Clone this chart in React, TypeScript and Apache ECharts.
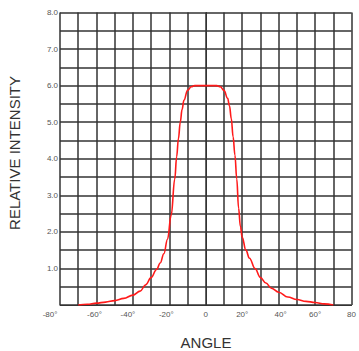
import React, { useEffect, useRef } from "react";
import * as echarts from "echarts";

const angles = [-70, -65, -60, -55, -50, -45, -40, -36, -33, -30, -27, -25, -23, -21, -19, -17, -16, -15, -14, -13, -12, -10, -8, -6, 0, 6, 8, 10, 12, 13, 14, 15, 16, 17, 18, 19, 20, 22, 24, 27, 30, 33, 36, 40, 45, 50, 55, 60, 65, 70];
const intensity = [0.0, 0.02, 0.05, 0.08, 0.12, 0.18, 0.27, 0.38, 0.55, 0.75, 0.97, 1.15, 1.4, 1.8, 2.45, 3.45, 4.05, 4.55, 5.0, 5.35, 5.6, 5.87, 5.97, 6.0, 6.0, 6.0, 5.97, 5.87, 5.65, 5.45, 5.1, 4.6, 4.1, 3.45, 2.65, 2.15, 1.85, 1.5, 1.28, 1.0, 0.75, 0.6, 0.46, 0.35, 0.22, 0.15, 0.1, 0.07, 0.03, 0.0];
const xTickLabels: Record<number, string> = { [-80]: "-80°", [-60]: "-60°", [-40]: "-40°", [-20]: "-20°", 0: "0", 20: "20°", 40: "40°", 60: "60°", 80: "80" };
const xLabelShift: Record<number, string> = { [-80]: "p20", [-60]: "p4", [-40]: "p10", [-20]: "p6", 40: "q4" };
const yTickLabels = [1, 2, 3, 4, 5, 6, 7, 8];

export default function App() {
  const ref = useRef<HTMLDivElement>(null);
  useEffect(() => {
    const chart = echarts.init(ref.current!, null, { renderer: "svg" });
    const font = "'Liberation Sans', Arial, sans-serif";
    chart.setOption({
      animation: false,
      grid: { left: 60, right: 6.3, top: 12.5, bottom: 46 },
      xAxis: {
        type: "value",
        min: -80,
        max: 80,
        interval: 10,
        axisLine: { show: true, lineStyle: { color: "#333", width: 1 } },
        axisTick: { show: false },
        splitLine: { show: true, lineStyle: { color: "#333", width: 1.5 } },
        axisLabel: {
          margin: 5,
          fontSize: 8,
          color: "#555",
          fontFamily: font,
          formatter: (v: number) => {
            const t = xTickLabels[v];
            if (t === undefined) return "";
            const s = xLabelShift[v];
            return s ? `{${s}|${t}}` : t;
          },
          rich: {
            p20: { fontSize: 8, color: "#555", fontFamily: font, padding: [0, 20, 0, 0] },
            p10: { fontSize: 8, color: "#555", fontFamily: font, padding: [0, 10, 0, 0] },
            p6: { fontSize: 8, color: "#555", fontFamily: font, padding: [0, 6, 0, 0] },
            p4: { fontSize: 8, color: "#555", fontFamily: font, padding: [0, 4, 0, 0] },
            q4: { fontSize: 8, color: "#555", fontFamily: font, padding: [0, 0, 0, 4] },
          },
        },
      },
      yAxis: {
        type: "value",
        min: 0,
        max: 8,
        interval: 0.5,
        axisLine: { show: true, lineStyle: { color: "#333", width: 1 } },
        axisTick: { show: false },
        splitLine: { show: true, lineStyle: { color: "#333", width: 1.5 } },
        axisLabel: {
          margin: 2,
          fontSize: 8,
          color: "#555",
          fontFamily: font,
          formatter: (v: number) => (yTickLabels.includes(v) ? v.toFixed(1) : ""),
        },
      },
      graphic: [
        {
          type: "text",
          x: 14.5,
          y: 153,
          rotation: Math.PI / 2,
          style: {
            text: "RELATIVE INTENSITY",
            fontSize: 15,
            fontFamily: font,
            fill: "#333",
            align: "center",
            verticalAlign: "middle",
          },
        },
        {
          type: "text",
          x: 206,
          y: 342,
          style: {
            text: "ANGLE",
            fontSize: 15,
            fontFamily: font,
            fill: "#333",
            align: "center",
            verticalAlign: "middle",
          },
        },
      ],
      series: [
        {
          type: "line",
          data: angles.map((a, i) => [a, intensity[i]]),
          smooth: 0.4,
          smoothMonotone: "x",
          showSymbol: false,
          lineStyle: { color: "#ff1a1a", width: 1.6 },
        },
      ],
    });
    return () => chart.dispose();
  }, []);
  return <div ref={ref} style={{ position: "fixed", left: 0, top: 0, width: 359, height: 351, background: "#fff" }} />;
}
